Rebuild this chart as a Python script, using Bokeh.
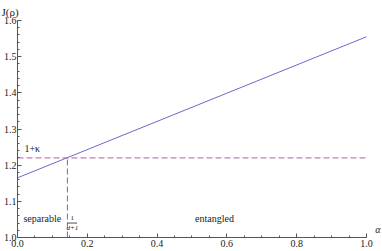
from bokeh.plotting import figure
from bokeh.models import SingleIntervalTicker, ColumnDataSource, Range1d, PrintfTickFormatter
from bokeh.core.properties import value
from bokeh.embed import file_html
from bokeh.resources import INLINE

# data
alpha = [0.0, 1.0]
J = [1.165, 1.555]
kappa_level = 1.22
alpha_c = 0.143
x_ticks_major = 0.2
y_ticks_major = 0.1

FONT = "Liberation Serif"

p = figure(width=382, height=251, output_backend="svg", toolbar_location=None,
           x_range=Range1d(0, 1.046), y_range=Range1d(1.0, 1.6),
           min_border_left=0, min_border_right=0, min_border_top=20, min_border_bottom=14)
p.outline_line_color = None
p.grid.visible = False
p.background_fill_color = "white"

p.title.text = "J(ρ)"
p.title.align = "left"
p.title.offset = -16
p.title.standoff = 5
p.title.text_font = FONT
p.title.text_font_size = "11px"
p.title.text_font_style = "normal"
p.title.text_color = "#222222"

for ax, iv, nm in ((p.xaxis, x_ticks_major, 4), (p.yaxis, y_ticks_major, 5)):
    ax.ticker = SingleIntervalTicker(interval=iv, num_minor_ticks=nm)
    ax.formatter = PrintfTickFormatter(format="%.1f")
    ax.axis_line_color = "#555555"
    ax.major_tick_line_color = "#555555"
    ax.minor_tick_line_color = "#555555"
    ax.major_tick_in = 4
    ax.major_tick_out = 0
    ax.minor_tick_in = 2
    ax.minor_tick_out = 0
    ax.major_label_text_font = FONT
    ax.major_label_text_font_size = "10px"
    ax.major_label_text_color = "#222222"
p.xaxis.bounds = (0, 1.0)
p.xaxis.major_label_standoff = 2
p.yaxis.major_label_standoff = 1

# main curve
p.line(alpha, J, line_color="#6a6ac8", line_width=1)
# horizontal dashed 1+kappa level
p.line([0.0, 1.0], [kappa_level, kappa_level], line_color="#b0609a", line_width=1, line_dash="6 3")
# vertical dashed at alpha_c
p.line([alpha_c, alpha_c], [1.0, kappa_level], line_color="#6a6ad0", line_width=1, line_dash="6 3")

src = ColumnDataSource(dict(x=[0.02, 0.017, 0.509], y=[1.232, 1.036, 1.036],
                            t=["1+κ", "separable", "entangled"]))
p.text(x="x", y="y", text="t", source=src, text_font=value(FONT), text_font_size="10px",
       text_color="#222222", text_baseline="bottom", text_align="left")

# fraction 1/(d+1)
p.text(x=[0.157], y=[1.053], text=["1"], text_font=value(FONT), text_font_size="7px",
       text_color="#222222", text_align="center", text_baseline="middle")
p.text(x=[0.157], y=[1.026], text=["d+1"], text_font=value(FONT), text_font_size="7px",
       text_color="#222222", text_align="center", text_baseline="middle", text_font_style="italic")
p.line([0.143, 0.171], [1.04, 1.04], line_color="#222222", line_width=0.8)

# axis label alpha at the end of the x axis
p.text(x=[1.025], y=[1.006], text=["α"], text_font=value(FONT), text_font_size="10px",
       text_font_style="italic", text_color="#222222", text_baseline="bottom", text_align="left")

open("out.html", "w").write(file_html(p, INLINE))
